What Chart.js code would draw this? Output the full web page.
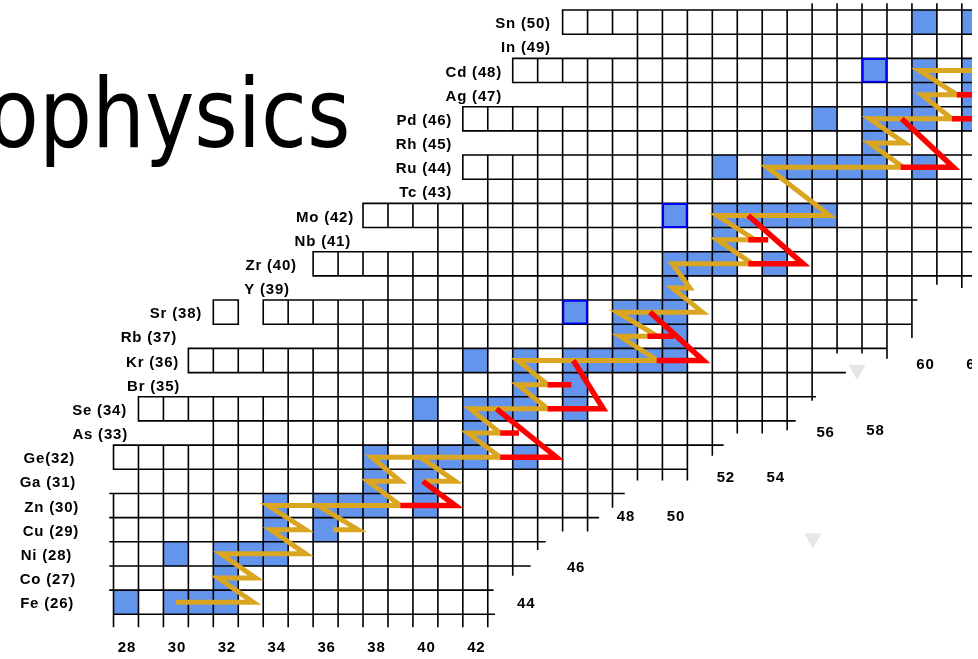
<!DOCTYPE html>
<html>
<head>
<meta charset="utf-8">
<script src="https://cdn.jsdelivr.net/npm/chart.js@4.4.0/dist/chart.umd.min.js"></script>
<style>
  html, body { margin: 0; padding: 0; background: #fff; overflow: hidden; }
  #wrap { position: relative; width: 978px; height: 659px; }
  #chart { position: absolute; left: 0; top: 0; }
  #title {
    position: absolute; right: 628px; top: 66px;
    font: 96px/1 "DejaVu Sans", sans-serif; color: #000; white-space: nowrap;
    transform: scaleX(0.87); transform-origin: right center;
  }
</style>
</head>
<body>
<div id="wrap">
  <canvas id="chart" width="972" height="659"></canvas>
  <div id="title">Astrophysics</div>
</div>
<script>
// chart rows, bottom to top
const protonZ = [26, 27, 28, 29, 30, 31, 32, 33, 34, 35, 36, 37, 38, 39, 40, 41, 42, 43, 44, 45, 46, 47, 48, 49, 50];
const rowLabels = ['Fe (26)', 'Co (27)', 'Ni (28)', 'Cu (29)', 'Zn (30)', 'Ga (31)', 'Ge(32)', 'As (33)', 'Se (34)',
  'Br (35)', 'Kr (36)', 'Rb (37)', 'Sr (38)', 'Y (39)', 'Zr (40)', 'Nb (41)', 'Mo (42)', 'Tc (43)', 'Ru (44)',
  'Rh (45)', 'Pd (46)', 'Ag (47)', 'Cd (48)', 'In (49)', 'Sn (50)'];
// neutron number where each row label ends
const labelEdgeN = [25.92, 26.0, 25.84, 26.12, 26.12, 26.0, 25.96, 28.08, 28.04, 30.17, 30.13, 30.05, 31.05,
  34.57, 34.85, 37.02, 37.14, 41.07, 41.07, 41.07, 41.07, 43.07, 43.07, 45.03, 45.03];

// first / last neutron number drawn in each row
const firstN = [28, 28, 28, 28, 28, 29, 28, 32, 29, 35, 31, 37, 32, 39, 36, 41, 38, 43, 42, 45, 42, 47, 44, 49, 46];
const lastN = [42, 42, 43, 44, 46, 47, 50, 51, 54, 55, 55, 58, 59, 59, 63, 63, 63, 63, 63, 63, 63, 63, 63, 63, 63];
const missingCells = [[38, 33]]; // [Z, N]

// little overhangs of the grid lines: [Z line, N from, N to] and [N line, Z from, Z to]
const hTicks = [
  [25.5, 42.5, 42.76], [26.5, 42.5, 42.7], [27.5, 43.5, 44.19], [28.5, 44.5, 44.79], [29.5, 46.5, 46.93],
  [30.5, 47.5, 47.96], [32.5, 51.5, 51.92], [33.5, 54.5, 54.81], [34.5, 55.5, 55.62], [35.5, 55.5, 56.82],
  [38.5, 59.5, 59.69],
  [26.5, 27.36, 27.5], [27.5, 27.36, 27.5], [28.5, 27.36, 27.5], [29.5, 27.36, 27.5], [30.5, 27.36, 27.5]
];
const vTicks = [
  [27.5, 25.5, 25.0], [28.5, 25.5, 25.0], [29.5, 25.5, 25.0], [30.5, 25.5, 25.0], [31.5, 25.5, 25.0],
  [32.5, 25.5, 25.0], [33.5, 25.5, 25.0], [34.5, 25.5, 25.0], [35.5, 25.5, 25.0], [36.5, 25.5, 25.0],
  [37.5, 25.5, 25.0], [38.5, 25.5, 25.0], [39.5, 25.5, 25.0], [40.5, 25.5, 25.0], [41.5, 25.5, 25.0],
  [42.5, 25.5, 25.0],
  [43.5, 27.5, 27.13], [44.5, 28.5, 28.19], [45.5, 29.5, 28.96], [46.5, 29.5, 28.96], [47.5, 30.5, 29.94],
  [48.5, 31.5, 31.07], [49.5, 31.5, 31.07], [50.5, 31.5, 31.07], [51.5, 32.5, 32.09], [52.5, 33.5, 33.01],
  [53.5, 33.5, 33.01], [54.5, 33.5, 33.15], [55.5, 34.5, 34.37], [56.5, 36.5, 36.32], [57.5, 36.5, 36.32],
  [58.5, 36.5, 36.11], [59.5, 37.5, 36.96], [60.5, 39.5, 39.17], [61.5, 39.5, 39.03],
  [55.5, 50.5, 50.75], [56.5, 50.5, 50.75], [57.5, 50.5, 50.75], [58.5, 50.5, 50.75], [59.5, 50.5, 50.75],
  [60.5, 50.5, 50.75], [61.5, 50.5, 50.75], [62.5, 50.5, 50.75]
];

// stable nuclides [Z, N]
const stableCells = [
  [26, 28], [26, 30], [26, 31], [26, 32],
  [27, 32],
  [28, 30], [28, 32], [28, 33], [28, 34],
  [29, 34], [29, 36],
  [30, 34], [30, 36], [30, 37], [30, 38], [30, 40],
  [31, 38], [31, 40],
  [32, 38], [32, 40], [32, 41], [32, 42], [32, 44],
  [33, 42],
  [34, 40], [34, 42], [34, 43], [34, 44], [34, 46],
  [35, 44], [35, 46],
  [36, 42], [36, 44], [36, 46], [36, 47], [36, 48], [36, 49], [36, 50],
  [37, 48], [37, 50],
  [38, 48], [38, 49], [38, 50],
  [39, 50],
  [40, 50], [40, 51], [40, 52], [40, 54],
  [41, 52],
  [42, 52], [42, 53], [42, 54], [42, 55], [42, 56],
  [44, 52], [44, 54], [44, 55], [44, 56], [44, 57], [44, 58], [44, 60],
  [45, 58],
  [46, 56], [46, 58], [46, 59], [46, 60], [46, 62],
  [47, 60], [47, 62],
  [48, 60], [48, 62],
  [50, 60], [50, 62]
];
// p-nuclei, outlined in blue
const pNuclei = [[38, 46], [42, 50], [48, 58]];

// s-process path: each row is run from sPathFrom to sPathTo, then a decay to the next row
const sPathZ = [26, 27, 28, 29, 30, 31, 32, 33, 34, 35, 36, 37, 38, 39, 40, 41, 42, 44, 45, 46, 47, 48];
const sPathFrom = [30.0, 31.7, 31.8, 33.8, 33.7, 37.7, 37.85, 41.7, 41.8, 43.7, 43.7, 47.8, 47.7, 49.9, 49.9,
  51.7, 51.7, 53.7, 57.8, 57.8, 59.9, 59.8];
const sPathTo = [33.1, 33.2, 35.2, 35.2, 39.0, 39.0, 43.0, 43.0, 44.9, 44.9, 49.3, 49.3, 51.1, 50.6, 53.1,
  53.2, 56.2, 59.15, 59.2, 61.1, 61.3, 62.6];
// side loops of the same path, [N, Z] points
const sideLoops = [
  [[36.3, 29], [37.3, 29], [35.7, 30]],
  [[39.9, 31], [41.2, 31], [39.8, 32]]
];

// branchings, [N, Z] points
const branchPaths = [
  [[39.0, 30], [41.2, 30], [39.9, 31]],
  [[43.0, 32], [45.25, 32], [42.85, 34]],
  [[43.0, 33], [43.75, 33]],
  [[44.9, 34], [47.13, 34], [45.93, 36]],
  [[44.9, 35], [45.85, 35]],
  [[49.27, 36], [51.14, 36], [49.0, 38]],
  [[48.9, 37], [49.95, 37]],
  [[52.94, 40], [55.14, 40], [52.94, 42]],
  [[52.94, 41], [53.74, 41]],
  [[59.05, 44], [61.16, 44], [59.09, 46]],
  [[61.1, 46], [62.4, 46]],
  [[61.3, 47], [62.4, 47]]
];
const branchArrows = [[62.3, 46], [62.3, 47]];

// neutron number labels along the lower edge
const neutronTicks = [28, 30, 32, 34, 36, 38, 40, 42, 44, 46, 48, 50, 52, 54, 56, 58, 60, 62];
const neutronTickZ = [24.1, 24.1, 24.1, 24.1, 24.1, 24.1, 24.1, 24.1, 25.93, 27.44, 29.53, 29.53, 31.14, 31.14,
  33.0, 33.08, 35.83, 35.83];

// faint markers left on the slide
const greyMarks = [[55.53, 28.64], [57.3, 35.61]];

function rowRuns(z, i) {
  const runs = [];
  let start = null;
  for (let n = firstN[i]; n <= lastN[i] + 1; n++) {
    const present = n <= lastN[i] && !missingCells.some(([mz, mn]) => mz === z && mn === n);
    if (present && start === null) start = n;
    if (!present && start !== null) { runs.push([start, n - 1]); start = null; }
  }
  return runs;
}

function gridPoints() {
  const pts = [];
  const seg = (x1, y1, x2, y2) => pts.push({x: x1, y: y1}, {x: x2, y: y2}, {x: null, y: null});
  protonZ.forEach((z, i) => {
    rowRuns(z, i).forEach(([a, b]) => {
      seg(a - 0.5, z - 0.5, b + 0.5, z - 0.5);
      seg(a - 0.5, z + 0.5, b + 0.5, z + 0.5);
      for (let n = a; n <= b + 1; n++) seg(n - 0.5, z - 0.5, n - 0.5, z + 0.5);
    });
  });
  hTicks.forEach(([z, n1, n2]) => seg(n1, z, n2, z));
  vTicks.forEach(([n, z1, z2]) => seg(n, z1, n, z2));
  return pts;
}

function polylinePoints(lines) {
  const pts = [];
  lines.forEach(line => {
    line.forEach(([n, z]) => pts.push({x: n, y: z}));
    pts.push({x: null, y: null});
  });
  return pts;
}

const mainPath = sPathZ.flatMap((z, i) => [[sPathFrom[i], z], [sPathTo[i], z]]);

const cellBar = cells => cells.map(([z, n]) => ({x: [n - 0.5, n + 0.5], y: z}));

const chartText = {
  id: 'chartText',
  afterDatasetsDraw(chart) {
    const {ctx, scales: {x, y}} = chart;
    ctx.save();
    ctx.fillStyle = '#000';
    ctx.font = 'bold 15px "Liberation Sans", Arial, sans-serif';
    if ('letterSpacing' in ctx) ctx.letterSpacing = '0.8px';
    ctx.textBaseline = 'middle';
    ctx.textAlign = 'right';
    protonZ.forEach((z, i) => {
      ctx.fillText(rowLabels[i], x.getPixelForValue(labelEdgeN[i]), y.getPixelForValue(z) + 2);
    });
    ctx.textAlign = 'center';
    neutronTicks.forEach((n, i) => {
      ctx.fillText(String(n), x.getPixelForValue(n) + 1, y.getPixelForValue(neutronTickZ[i]));
    });
    ctx.restore();
  }
};

new Chart(document.getElementById('chart'), {
  type: 'scatter',
  data: {
    datasets: [
      {
        label: 'branchings',
        data: polylinePoints(branchPaths),
        showLine: true, borderColor: '#ff0000', borderWidth: 5.5, pointRadius: 0, spanGaps: false,
        borderJoinStyle: 'miter', order: 1
      },
      {
        label: 'branch arrows',
        data: branchArrows.map(([n, z]) => ({x: n, y: z})),
        pointStyle: 'triangle', pointRotation: 90, pointRadius: 7,
        backgroundColor: '#ff0000', borderColor: '#ff0000', order: 1
      },
      {
        label: 's-process',
        data: polylinePoints([mainPath, ...sideLoops]),
        showLine: true, borderColor: '#daa520', borderWidth: 5, pointRadius: 0, spanGaps: false,
        borderJoinStyle: 'miter', order: 2
      },
      {
        label: 'p-nuclei',
        type: 'bar', indexAxis: 'y', grouped: false,
        data: cellBar(pNuclei),
        backgroundColor: '#6495ed', borderColor: '#0000ff', borderWidth: 2, borderSkipped: false,
        barPercentage: 1, categoryPercentage: 1, order: 3
      },
      {
        label: 'grid',
        data: gridPoints(),
        showLine: true, borderColor: '#000', borderWidth: 1.6, pointRadius: 0, spanGaps: false,
        borderCapStyle: 'square', order: 4
      },
      {
        label: 'stable',
        type: 'bar', indexAxis: 'y', grouped: false,
        data: cellBar(stableCells),
        backgroundColor: '#6495ed', borderWidth: 0,
        barPercentage: 1, categoryPercentage: 1, order: 5
      },
      {
        label: 'marks',
        data: greyMarks.map(([n, z]) => ({x: n, y: z})),
        pointStyle: 'triangle', pointRotation: 180, pointRadius: 9,
        backgroundColor: '#e6e6e6', borderColor: '#e6e6e6', order: 6
      }
    ]
  },
  options: {
    responsive: false,
    animation: false,
    events: [],
    layout: {padding: 0, autoPadding: false},
    plugins: {legend: {display: false}, tooltip: {enabled: false}, title: {display: false}},
    scales: {
      x: {type: 'linear', min: 22.95, max: 61.908, display: false, offset: false},
      y: {type: 'linear', min: 23.65, max: 50.915, display: false, offset: false,
        ticks: {stepSize: 1, includeBounds: false}}
    }
  },
  plugins: [chartText]
});
</script>
</body>
</html>
